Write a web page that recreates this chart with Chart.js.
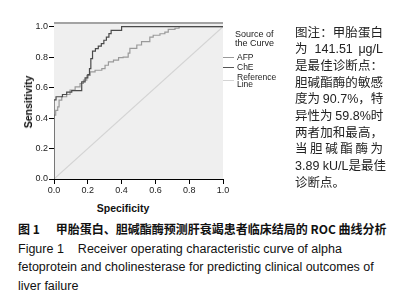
<!DOCTYPE html>
<html>
<head>
<meta charset="utf-8">
<script src="https://cdn.jsdelivr.net/npm/chart.js@4/dist/chart.umd.min.js"></script>
<style>
  body { margin: 0; background: #fff; width: 398px; height: 307px; position: relative; overflow: hidden; font-family: "Liberation Sans", Arial, sans-serif; color: #222; }
  #rocChart { position: absolute; left: 0; top: 0; }
  .abs { position: absolute; white-space: nowrap; }
  .axis-title { font-weight: bold; font-size: 10.5px; color: #111; }
  .leg { font-size: 8.5px; line-height: 8px; color: #222; }
  .leg-line { position: absolute; height: 0; }
  #note { position: absolute; left: 295px; top: 24px; width: 88px; font-family: "Noto Sans CJK SC", sans-serif; font-size: 12.5px; line-height: 16.2px; color: #222; }
  #note div { text-align: justify; text-align-last: justify; white-space: nowrap; }
  #note .num { font-family: "Liberation Sans", Arial, sans-serif; font-size: 12.5px; }
  #caption { position: absolute; left: 18px; top: 220px; font-size: 12.5px; line-height: 18.7px; color: #111; }
  #caption .zh { font-family: "Noto Sans CJK SC", sans-serif; font-weight: bold; font-size: 12px; }
</style>
</head>
<body>
<canvas id="rocChart" width="240" height="200"></canvas>

<div class="abs axis-title" style="left:28px;top:102px;transform:translate(-50%,-50%) rotate(-90deg);">Sensitivity</div>
<div class="abs axis-title" style="left:123px;top:208px;transform:translate(-50%,-50%);">Specificity</div>

<div class="abs leg" style="left:235px;top:30px;font-size:9px;line-height:9px;">Source of<br>the Curve</div>
<div class="leg-line" style="left:223px;top:57px;width:11px;border-top:1.5px solid #9a9a9a;"></div>
<div class="abs leg" style="left:237px;top:53px;">AFP</div>
<div class="leg-line" style="left:223px;top:67px;width:11px;border-top:1.5px solid #555;"></div>
<div class="abs leg" style="left:237px;top:63px;">ChE</div>
<div class="leg-line" style="left:223px;top:80px;width:11px;border-top:1.5px solid #d4d4d4;"></div>
<div class="abs leg" style="left:237px;top:74px;line-height:6.5px;">Reference<br>Line</div>

<div id="note">
  <div>图注：甲胎蛋白</div>
  <div>为 <span class="num">141.51 μg/L</span></div>
  <div>是最佳诊断点：</div>
  <div>胆碱酯酶的敏感</div>
  <div>度为 <span class="num">90.7%</span>，特</div>
  <div>异性为 <span class="num">59.8%</span>时</div>
  <div>两者加和最高，</div>
  <div>当胆碱酯酶为</div>
  <div><span class="num">3.89 kU/L</span>是最佳</div>
  <div style="text-align-last:left">诊断点。</div>
</div>

<div id="caption">
  <div><span class="zh">图 1</span><span class="zh" style="margin-left:16px">甲胎蛋白、胆碱酯酶预测肝衰竭患者临床结局的 ROC 曲线分析</span></div>
  <div>Figure 1<span style="margin-left:14px">Receiver operating characteristic curve of alpha</span></div>
  <div>fetoprotein and cholinesterase for predicting clinical outcomes of</div>
  <div>liver failure</div>
</div>

<script>
// tick values on both axes
const xTicks = [0, 0.2, 0.4, 0.6, 0.8, 1.0];
const yTicks = [0, 0.2, 0.4, 0.6, 0.8, 1.0];

// ChE curve (darker), step points
const cheX = [0, 0, 0.012, 0.05, 0.075, 0.105, 0.164, 0.184, 0.2, 0.21, 0.218, 0.228, 0.245, 0.262, 0.28, 0.295, 0.31, 0.325, 0.338, 0.40, 1.0];
const cheY = [0, 0.52, 0.54, 0.555, 0.57, 0.58, 0.638, 0.664, 0.686, 0.725, 0.79, 0.84, 0.856, 0.873, 0.889, 0.911, 0.932, 0.955, 0.976, 1.0, 1.0];

// AFP curve (lighter)
const afpX = [0, 0, 0.01, 0.022, 0.03, 0.046, 0.075, 0.095, 0.125, 0.154, 0.174, 0.194, 0.214, 0.243, 0.283, 0.302, 0.322, 0.352, 0.382, 0.409, 0.439, 0.449, 0.49, 0.518, 0.567, 0.587, 0.627, 0.656, 0.676, 0.716, 0.74, 1.0];
const afpY = [0, 0.42, 0.45, 0.474, 0.518, 0.54, 0.555, 0.583, 0.605, 0.627, 0.649, 0.68, 0.703, 0.714, 0.725, 0.747, 0.769, 0.78, 0.797, 0.80, 0.826, 0.858, 0.88, 0.902, 0.932, 0.944, 0.954, 0.965, 0.983, 0.99, 1.0, 1.0];

// reference diagonal
const refX = [0, 1];
const refY = [0, 1];

const toPoints = (xs, ys) => xs.map((x, i) => ({ x: x, y: ys[i] }));
const fmt = (v) => Number(v).toFixed(1);

// grey plot background + top frame line
const plotFrame = {
    id: 'plotFrame',
    beforeDatasetsDraw(chart) {
        const { ctx, chartArea: a } = chart;
        ctx.save();
        ctx.fillStyle = '#efefef';
        ctx.fillRect(a.left, a.top, a.right - a.left, a.bottom - a.top);
        ctx.strokeStyle = '#a3a3a3';
        ctx.lineWidth = 2;
        ctx.beginPath();
        ctx.moveTo(a.left, a.top + 1);
        ctx.lineTo(a.right, a.top + 1);
        ctx.stroke();
        ctx.restore();
    }
};

const tickFont = { family: '"Liberation Sans", Arial, sans-serif', size: 9 };

new Chart(document.getElementById('rocChart').getContext('2d'), {
    type: 'scatter',
    data: {
        datasets: [
            {
                label: 'Reference Line',
                data: toPoints(refX, refY),
                showLine: true,
                borderColor: '#d4d4d4',
                borderWidth: 1.2,
                pointRadius: 0,
                order: 3
            },
            {
                label: 'AFP',
                data: toPoints(afpX, afpY),
                showLine: true,
                stepped: 'before',
                borderColor: '#9a9a9a',
                borderWidth: 1.2,
                pointRadius: 0,
                order: 2
            },
            {
                label: 'ChE',
                data: toPoints(cheX, cheY),
                showLine: true,
                stepped: 'before',
                borderColor: '#4a4a4a',
                borderWidth: 1.2,
                pointRadius: 0,
                order: 1
            }
        ]
    },
    options: {
        responsive: false,
        animation: false,
        devicePixelRatio: 1,
        layout: { padding: { top: 22, right: 17, left: 0, bottom: 0 } },
        plugins: { legend: { display: false }, tooltip: { enabled: false } },
        scales: {
            x: {
                type: 'linear',
                min: 0,
                max: 1,
                afterBuildTicks: (scale) => { scale.ticks = xTicks.map(v => ({ value: v })); },
                afterFit: (scale) => { scale.height = 21; },
                ticks: { font: tickFont, color: '#222', padding: 1, maxRotation: 0, callback: fmt },
                grid: { drawOnChartArea: false, drawTicks: true, tickLength: 5, color: '#000' },
                border: { display: true, color: '#000', width: 1 }
            },
            y: {
                type: 'linear',
                min: 0,
                max: 1.031,
                afterBuildTicks: (scale) => { scale.ticks = yTicks.map(v => ({ value: v })); },
                afterFit: (scale) => { scale.width = 54; },
                ticks: { font: tickFont, color: '#222', padding: 1, callback: fmt },
                grid: { drawOnChartArea: false, drawTicks: true, tickLength: 5, color: '#000' },
                border: { display: true, color: '#000', width: 1 }
            }
        }
    },
    plugins: [plotFrame]
});
</script>
</body>
</html>
